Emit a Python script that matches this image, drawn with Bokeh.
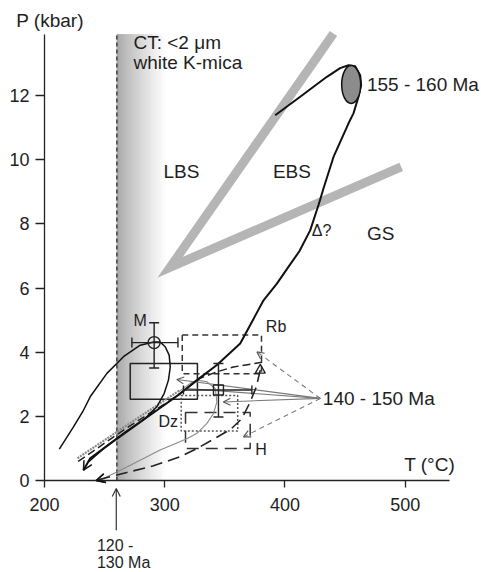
import numpy as np
from bokeh.plotting import figure
from bokeh.models import Range1d, FixedTicker, Arrow, OpenHead
from bokeh.core.properties import value
from bokeh.embed import file_html
from bokeh.resources import INLINE

FONT = "Liberation Sans"
TXT = "#1e1e1e"

# ---------------- data ----------------
x_ticks = [200, 300, 400, 500]
y_ticks = [0, 2, 4, 6, 8, 10, 12]
x_axis_end = 537.0
y_axis_top = 13.91

# CT (<2 um white K-mica) band
ct_T_left = 260.2
ct_T_fade = 301.0
ct_P_top = 13.91

# facies boundaries (grey V)
fac_T = [440.4, 304.5, 496.7]
fac_P = [13.94, 6.65, 9.78]

# 155-160 Ma peak ellipse
ell_T, ell_P, ell_w, ell_h = 455.1, 12.35, 15.8, 1.185

# main P-T path
main_T = [391.9, 412.7, 434.9, 445.9, 452.9, 458.4, 462.6, 463.4, 461.2, 457.0, 452.9,
          440.4, 432.5, 428.0, 421.0, 412.0, 402.9, 393.3, 382.2, 362.8, 343.4, 326.8, 312.9,
          293.5, 274.0, 254.6, 238.0, 232.4]
main_P = [11.39, 11.97, 12.59, 12.86, 12.95, 12.92, 12.64, 12.33, 11.97, 11.45, 11.14,
          10.09, 9.16, 8.60, 7.80, 7.15, 6.66, 6.14, 5.62, 4.27, 3.60, 3.13, 2.71,
          2.19, 1.67, 1.15, 0.69, 0.32]

# M loop
loopM_T = [212.3, 224.1, 232.4, 238.0, 251.9, 265.7, 279.6, 290.7, 296.2, 300.4, 303.7,
           304.6, 303.1, 299.6, 293.5, 283.8, 267.1, 250.5, 236.3]
loopM_P = [0.98, 1.67, 2.19, 2.61, 3.34, 3.86, 4.22, 4.32, 4.32, 4.17, 3.91,
           3.54, 3.13, 2.72, 2.30, 1.94, 1.51, 1.04, 0.57]

# Rb path (dashed)
rb_T = [381.1, 357.2, 343.4, 329.5, 318.4, 304.6, 268.0, 227.5]
rb_P = [3.69, 3.54, 3.39, 3.19, 2.87, 2.50, 1.63, 0.58]
# grey hatched companion
rb2_T = [312.0, 270.0, 226.9]
rb2_P = [2.80, 1.76, 0.68]

# Dz path (thin grey)
dz_T = [312.0, 321.2, 326.8, 335.1, 342.0, 343.4, 340.6, 335.1, 326.8, 318.4, 296.2,
        268.5, 249.1, 243.0]
dz_P = [2.78, 3.03, 3.13, 3.08, 2.87, 2.45, 2.09, 1.78, 1.47, 1.30, 0.95,
        0.42, 0.06, 0.0]

# H path (long dashes)
h_T = [379.5, 376.0, 371.1, 364.2, 355.0, 343.4, 328.0, 312.9, 290.0, 268.5, 251.9, 243.0]
h_P = [3.44, 2.90, 2.45, 1.93, 1.60, 1.35, 1.02, 0.74, 0.45, 0.25, 0.09, 0.0]

# data boxes: Rb (dashed), Dz (dotted), H (long dash), solid rectangle
rb_box = dict(left=314.6, right=380.5, bottom=3.33, top=4.54)
dz_box = dict(left=313.7, right=360.7, bottom=1.54, top=2.65)
h_box = dict(left=317.3, right=371.1, bottom=1.00, top=2.12)
sol_box = dict(left=271.3, right=327.2, bottom=2.53, top=3.65)

# M point with error bars
m_T, m_P = 291.2, 4.30
m_T_err = (272.7, 311.0)
m_P_err = (3.51, 4.92)
# square point with error bars
s_T, s_P = 344.7, 2.82
s_T_err = (315.6, 372.5)
s_P_err = (1.98, 3.65)
# triangle
tri_T, tri_P = 379.5, 3.44

# 140-150 Ma leader lines
lead_T, lead_P = 429.4, 2.56
lead_targets_T = [376.7, 310.1, 318.4, 348.8, 365.5]
lead_targets_P = [4.01, 3.15, 2.87, 2.45, 1.36]
lead_dash = ["5 4", "solid", "solid", "solid", "5 4"]
lead_arrow = [True, True, False, True, True]

# 120-130 Ma arrow
age_T = 259.7
age_P0, age_P1 = -1.55, -0.25

# text labels (left aligned, vertically centred)
big_labels = [("P (kbar)", 176.5, 14.34),
              ("CT: <2 \u03bcm", 274.0, 13.67), ("white K-mica", 274.0, 13.05),
              ("155 - 160 Ma", 468.2, 12.35), ("LBS", 299.0, 9.63), ("EBS", 390.0, 9.63),
              ("GS", 468.2, 7.70), ("140 - 150 Ma", 431.5, 2.56), ("T (\u00b0C)", 499.2, 0.50)]
small_labels = [("\u0394?", 422.4, 7.81), ("M", 274.0, 4.98), ("Rb", 384.1, 4.79),
                ("Dz", 294.8, 1.83), ("H", 375.2, 0.98),
                ("120 -", 243.6, -2.03), ("130 Ma", 243.6, -2.55)]

# ---------------- figure ----------------
p = figure(width=481, height=572, x_range=Range1d(163.4, 563.5), y_range=Range1d(-2.87, 14.97),
           output_backend="svg", toolbar_location=None,
           min_border_left=0, min_border_right=0, min_border_top=0, min_border_bottom=0)
p.grid.visible = False
p.outline_line_color = None
p.background_fill_color = "white"
p.border_fill_color = "white"

for ax, ticks, bnds, tout, loc, stand in ((p.xaxis[0], x_ticks, (200, x_axis_end), 7, 0, 11),
                                          (p.yaxis[0], y_ticks, (0, y_axis_top), 9, 200, 6)):
    ax.fixed_location = loc
    ax.ticker = FixedTicker(ticks=ticks)
    ax.bounds = bnds
    ax.major_tick_in = 0
    ax.major_tick_out = tout
    ax.minor_tick_in = 0
    ax.minor_tick_out = 0
    ax.axis_line_width = 1.3
    ax.axis_line_color = "#222222"
    ax.major_tick_line_color = "#222222"
    ax.major_tick_line_width = 1.3
    ax.major_label_text_font = FONT
    ax.major_label_text_font_size = "18px"
    ax.major_label_text_color = TXT
    ax.major_label_standoff = stand

# gradient band
n = 60
edges = np.linspace(ct_T_left, ct_T_fade, n + 1)
cols = []
for i in range(n):
    t = (i + 0.5) / n
    g = int(round(162 + 93 * t ** 0.8))
    cols.append("#%02x%02x%02x" % (g, g, g))
p.quad(left=edges[:-1], right=edges[1:], bottom=0, top=ct_P_top,
       fill_color=cols, line_color=cols, line_width=0.6)
p.line([ct_T_left, ct_T_left], [0, ct_P_top], line_color="#222222", line_width=1.2,
       line_dash="4 3")

# grey V facies boundaries
p.line(fac_T, fac_P, line_color="#b5b5b5", line_width=9, line_join="miter", line_cap="butt")

# boxes
p.quad(**{k: [v] for k, v in sol_box.items()}, fill_alpha=0, line_color="#222222", line_width=1.5)
p.quad(**{k: [v] for k, v in rb_box.items()}, fill_alpha=0, line_color="#333333", line_width=1.5,
       line_dash="6 4")
p.quad(**{k: [v] for k, v in dz_box.items()}, fill_alpha=0, line_color="#555555", line_width=1.5,
       line_dash="2 2")
p.quad(**{k: [v] for k, v in h_box.items()}, fill_alpha=0, line_color="#333333", line_width=1.5,
       line_dash="12 7")

# leader lines from "140 - 150 Ma"
for tT, tP, dsh, arr in zip(lead_targets_T, lead_targets_P, lead_dash, lead_arrow):
    p.line([lead_T, tT], [lead_P, tP], line_color="#7a7a7a", line_width=1.1, line_dash=dsh)
    if arr:
        p.add_layout(Arrow(end=OpenHead(size=7, line_color="#555555", line_width=1.1),
                           x_start=lead_T, y_start=lead_P, x_end=tT, y_end=tP, line_alpha=0))

# paths
p.line(rb2_T, rb2_P, line_color="#8a8a8a", line_width=2.2, line_dash="2 1")
p.line(dz_T, dz_P, line_color="#8a8a8a", line_width=1.1)
p.line(rb_T, rb_P, line_color="#222222", line_width=1.5, line_dash="8 4")
p.line(h_T, h_P, line_color="#222222", line_width=1.6, line_dash="12 6")
p.line(loopM_T, loopM_P, line_color="#111111", line_width=1.5)
p.line(main_T, main_P, line_color="#111111", line_width=2)

for xs, ys in ((main_T, main_P), (h_T, h_P), (dz_T, dz_P)):
    p.add_layout(Arrow(end=OpenHead(size=9, line_color="#111111", line_width=1.5),
                       x_start=xs[-2], y_start=ys[-2], x_end=xs[-1], y_end=ys[-1], line_alpha=0))

# ellipse 155-160 Ma
p.ellipse(x=[ell_T], y=[ell_P], width=[ell_w], height=[ell_h], fill_color="#8c8c8c",
          line_color="#111111", line_width=1.5)

# error bars
p.segment(x0=[m_T_err[0], m_T], y0=[m_P, m_P_err[0]], x1=[m_T_err[1], m_T], y1=[m_P, m_P_err[1]],
          line_color="#222222", line_width=1.4)
p.scatter(x=[m_T_err[0], m_T_err[1]], y=[m_P, m_P], marker="dash", angle=np.pi / 2, size=10,
          line_color="#222222", line_width=1.4)
p.scatter(x=[m_T, m_T], y=[m_P_err[0], m_P_err[1]], marker="dash", size=10,
          line_color="#222222", line_width=1.4)
p.scatter(x=[m_T], y=[m_P], marker="circle", size=12, fill_alpha=0, line_color="#222222",
          line_width=1.4)

p.segment(x0=[s_T_err[0], s_T], y0=[s_P, s_P_err[0]], x1=[s_T_err[1], s_T], y1=[s_P, s_P_err[1]],
          line_color="#222222", line_width=1.4)
p.scatter(x=[s_T_err[0], s_T_err[1]], y=[s_P, s_P], marker="dash", angle=np.pi / 2, size=9,
          line_color="#222222", line_width=1.4)
p.scatter(x=[s_T, s_T], y=[s_P_err[0], s_P_err[1]], marker="dash", size=10,
          line_color="#222222", line_width=1.4)
p.scatter(x=[s_T], y=[s_P], marker="square", size=10, fill_alpha=0, line_color="#222222",
          line_width=1.4)
p.scatter(x=[tri_T], y=[tri_P], marker="triangle", size=10, fill_alpha=0, line_color="#222222",
          line_width=1.3)

# 120-130 Ma arrow
p.add_layout(Arrow(end=OpenHead(size=8, line_color="#333333", line_width=1.2),
                   x_start=age_T, y_start=age_P0, x_end=age_T, y_end=age_P1,
                   line_color="#333333", line_width=1.2))

# texts
p.text(x=[t[1] for t in big_labels], y=[t[2] for t in big_labels], text=[t[0] for t in big_labels],
       text_font=value(FONT), text_font_size=value("19px"), text_color=TXT,
       text_baseline="middle", text_align="left")
p.text(x=[t[1] for t in small_labels], y=[t[2] for t in small_labels],
       text=[t[0] for t in small_labels],
       text_font=value(FONT), text_font_size=value("16px"), text_color=TXT,
       text_baseline="middle", text_align="left")

open("out.html", "w").write(file_html(p, INLINE))
